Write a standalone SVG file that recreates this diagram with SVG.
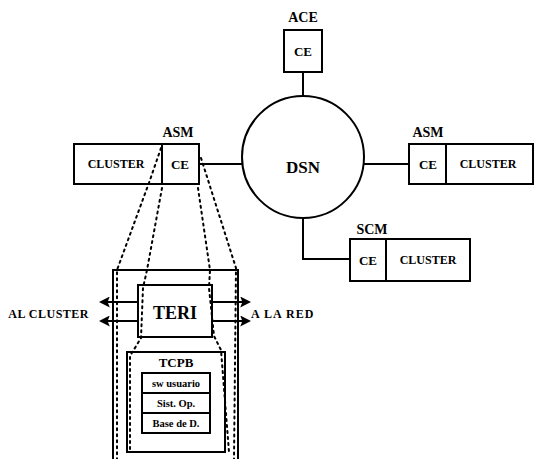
<svg xmlns="http://www.w3.org/2000/svg" width="534" height="459" viewBox="0 0 534 459">
<defs>
<style>
.b{fill:#fff;stroke:#000;stroke-width:2}
.ln{fill:none;stroke:#000;stroke-width:2}
.dot{fill:none;stroke:#000;stroke-width:2;stroke-dasharray:2 4;stroke-linecap:round}
text{font-family:"Liberation Serif","Times New Roman",serif;font-weight:bold;fill:#000;text-anchor:middle}
.s{font-size:12px}
.c{font-size:13px}
.m{font-size:14px}
.l{font-size:17px}
</style>
<marker id="ah" viewBox="0 0 10 10" refX="8" refY="5" markerWidth="5.5" markerHeight="5.5" orient="auto-start-reverse">
<path d="M0,0 L10,5 L0,10 L2,5 Z" fill="#000"/>
</marker>
</defs>
<g id="dsn"><circle class="b" cx="303" cy="157" r="61"/><text class="l" x="303" y="173">DSN</text></g>
<g id="ace"><text class="m" x="303" y="22">ACE</text><rect class="b" x="284" y="30" width="38" height="42"/><text class="c" x="303" y="56">CE</text></g>
<g id="asm-left"><text class="m" x="178" y="137">ASM</text><rect class="b" x="74" y="144" width="88" height="40"/><rect class="b" x="162" y="144" width="37" height="40"/><text class="s" x="116" y="168">CLUSTER</text><text class="c" x="180" y="169">CE</text></g>
<g id="asm-right"><text class="m" x="428" y="137">ASM</text><rect class="b" x="409" y="144" width="37" height="40"/><rect class="b" x="446" y="144" width="87" height="40"/><text class="c" x="428" y="169">CE</text><text class="s" x="488" y="168">CLUSTER</text></g>
<g id="scm"><text class="m" x="372" y="234">SCM</text><rect class="b" x="350" y="239" width="36" height="42"/><rect class="b" x="386" y="239" width="84" height="42"/><text class="c" x="368" y="265">CE</text><text class="s" x="428" y="264">CLUSTER</text></g>
<g id="detail">
<path class="b" d="M113,461 L113,270 L238,270 L238,461"/>
<rect class="b" x="138" y="285" width="74" height="52"/>
<text x="175" y="319" style="font-size:18px">TERI</text>
<rect class="b" x="127" y="352" width="98" height="100"/>
<text class="c" x="176" y="367">TCPB</text>
<rect class="b" x="142" y="373" width="68" height="20"/>
<rect class="b" x="142" y="393" width="68" height="20"/>
<rect class="b" x="142" y="413" width="68" height="20"/>
<text x="176" y="387" style="font-size:10.5px">sw usuario</text>
<text x="176" y="407" style="font-size:10.5px">Sist. Op.</text>
<text x="176" y="427" style="font-size:10.5px">Base de D.</text>
</g>
<g id="labels">
<text class="s" x="89" y="318" style="text-anchor:end;letter-spacing:0.5px">AL CLUSTER</text>
<text class="s" x="251" y="318" style="text-anchor:start;letter-spacing:1px">A LA RED</text>
</g>
<g id="zoom-lines">
<polyline class="dot" points="161,148 150,180 117,270 117,459"/>
<polyline class="dot" points="162,188 147,270 143,288 141,338 130,356 130,452"/>
<polyline class="dot" points="198,188 210,270 209,288 214,336 221,350 229,452"/>
<polyline class="dot" points="201,158 236,268 234,459"/>
</g>
<g id="connectors">
<line class="ln" x1="303" y1="72" x2="303" y2="96"/>
<line class="ln" x1="199" y1="164" x2="242" y2="164"/>
<line class="ln" x1="364" y1="164" x2="409" y2="164"/>
<polyline class="ln" points="303,218 303,259 350,259"/>
<line class="ln" x1="138" y1="302" x2="101" y2="302" marker-end="url(#ah)"/>
<line class="ln" x1="138" y1="321" x2="101" y2="321" marker-end="url(#ah)"/>
<line class="ln" x1="212" y1="302" x2="249" y2="302" marker-end="url(#ah)"/>
<line class="ln" x1="212" y1="321" x2="249" y2="321" marker-end="url(#ah)"/>
</g>
</svg>
